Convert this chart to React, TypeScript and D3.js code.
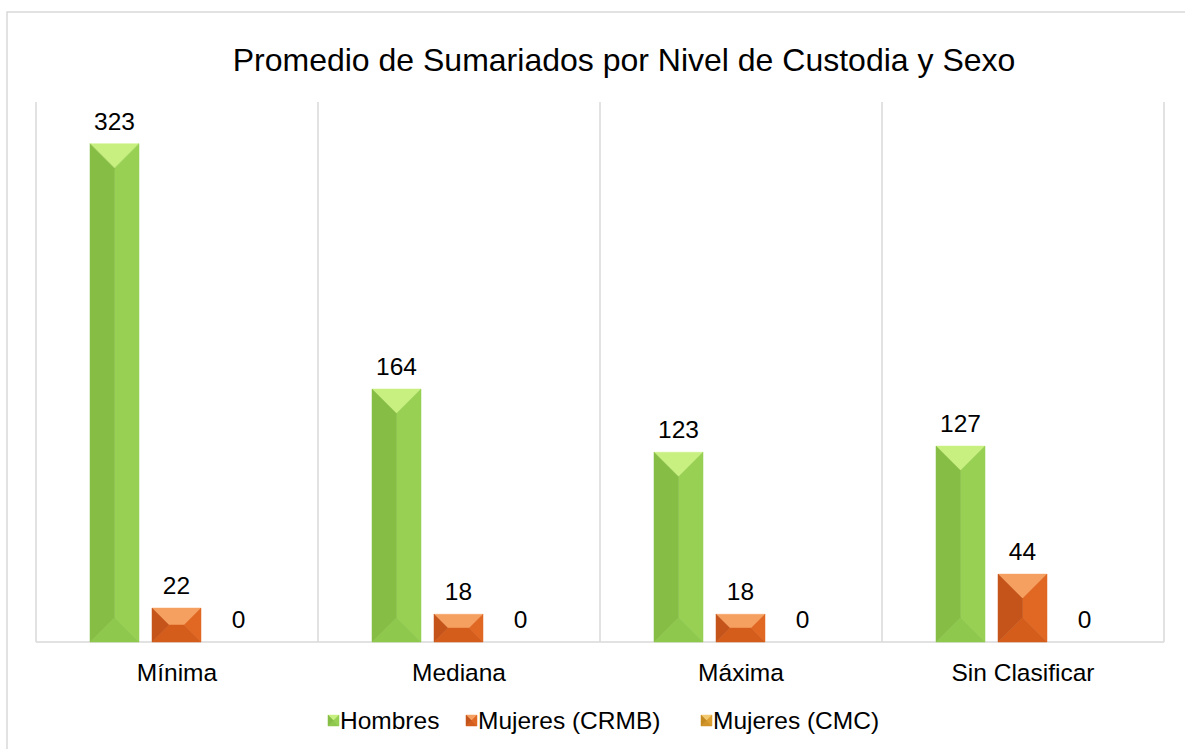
import React from "react";
import * as d3 from "d3";

const categories = ["Mínima", "Mediana", "Máxima", "Sin Clasificar"];
const seriesNames = ["Hombres", "Mujeres (CRMB)", "Mujeres (CMC)"];
const hombres = [323, 164, 123, 127];
const mujeresCRMB = [22, 18, 18, 44];
const mujeresCMC = [0, 0, 0, 0];
const title = "Promedio de Sumariados por Nivel de Custodia y Sexo";

const palettes = [
  { top: "#c8f080", left: "#86bd45", right: "#97d052", bottom: "#8ec84c", legend: "#8fd14f" },
  { top: "#f5a060", left: "#c4541a", right: "#e06822", bottom: "#d45d1c", legend: "#e0601c" },
  { top: "#f2c870", left: "#c48a20", right: "#dea030", bottom: "#d09428", legend: "#d99a2c" },
];

const W = 1185;
const H = 749;
const plot = { left: 36, right: 1164, top: 102, bottom: 642 };

function BevelBar({ x, y, w, h, pal }: { x: number; y: number; w: number; h: number; pal: any }) {
  if (h <= 0) return null;
  const l = x, r = x + w, t = y, b = y + h;
  const cx = x + w / 2, cy = y + h / 2;
  let faces: { pts: number[][]; fill: string }[];
  if (h >= w) {
    const p1 = [cx, t + w / 2];
    const p2 = [cx, b - w / 2];
    faces = [
      { pts: [[l, t], [r, t], p1], fill: pal.top },
      { pts: [[r, t], [r, b], p2, p1], fill: pal.right },
      { pts: [[r, b], [l, b], p2], fill: pal.bottom },
      { pts: [[l, b], [l, t], p1, p2], fill: pal.left },
    ];
  } else {
    const p1 = [l + h / 2, cy];
    const p2 = [r - h / 2, cy];
    faces = [
      { pts: [[l, t], [r, t], p2, p1], fill: pal.top },
      { pts: [[r, t], [r, b], p2], fill: pal.right },
      { pts: [[r, b], [l, b], p1, p2], fill: pal.bottom },
      { pts: [[l, b], [l, t], p1], fill: pal.left },
    ];
  }
  const line = d3.line();
  return (
    <g>
      {faces.map((f, i) => (
        <path key={i} d={line(f.pts as [number, number][]) + "Z"} fill={f.fill} stroke={f.fill} strokeWidth={0.5} />
      ))}
    </g>
  );
}

export default function App() {
  const data = [hombres, mujeresCRMB, mujeresCMC];
  const x0 = d3.scaleBand().domain(categories).range([plot.left, plot.right]).paddingInner(0).paddingOuter(0);
  const bw = x0.bandwidth();
  const x1 = d3.scaleBand().domain(seriesNames).range([54, bw - 55]).paddingInner(0.21).paddingOuter(0);
  const y = d3.scaleLinear().domain([0, 350]).range([plot.bottom, plot.top]);
  const font = "Arial, 'Liberation Sans', sans-serif";
  const fs = 24.5;

  const legendItems = [
    { name: seriesNames[0], mx: 328 },
    { name: seriesNames[1], mx: 466 },
    { name: seriesNames[2], mx: 701 },
  ];

  return (
    <svg width={W} height={H} style={{ position: "absolute", left: 0, top: 0 }} fontFamily={font}>
      <rect x={0} y={0} width={W} height={H} fill="#fff" />
      <rect x={7} y={12} width={W + 50} height={H + 50} fill="#fff" stroke="#d9d9d9" strokeWidth={1.5} />
      <text x={624} y={71} textAnchor="middle" fontSize={32} fill="#000">{title}</text>
      {[...categories.map((c) => x0(c)!), plot.right].map((xv, i) => (
        <line key={i} x1={xv} x2={xv} y1={plot.top} y2={plot.bottom} stroke="#d9d9d9" strokeWidth={1.5} />
      ))}
      <line x1={plot.left} x2={plot.right} y1={plot.bottom} y2={plot.bottom} stroke="#d9d9d9" strokeWidth={1.5} />
      {categories.map((c, ci) => (
        <g key={c}>
          {seriesNames.map((s, si) => {
            const v = data[si][ci];
            const bx = x0(c)! + x1(s)!;
            const by = y(v);
            const h = plot.bottom - by;
            return (
              <g key={s}>
                <BevelBar x={bx} y={by} w={x1.bandwidth()} h={h} pal={palettes[si]} />
                <text x={bx + x1.bandwidth() / 2} y={by - 14} textAnchor="middle" fontSize={fs} fill="#000">{v}</text>
              </g>
            );
          })}
          <text x={x0(c)! + bw / 2} y={681} textAnchor="middle" fontSize={fs} fill="#000">{c}</text>
        </g>
      ))}
      {legendItems.map((li, i) => (
        <g key={li.name}>
          <BevelBar x={li.mx} y={715} w={11} h={11} pal={palettes[i]} />
          <text x={li.mx + 12} y={729} fontSize={fs} fill="#000">{li.name}</text>
        </g>
      ))}
    </svg>
  );
}
